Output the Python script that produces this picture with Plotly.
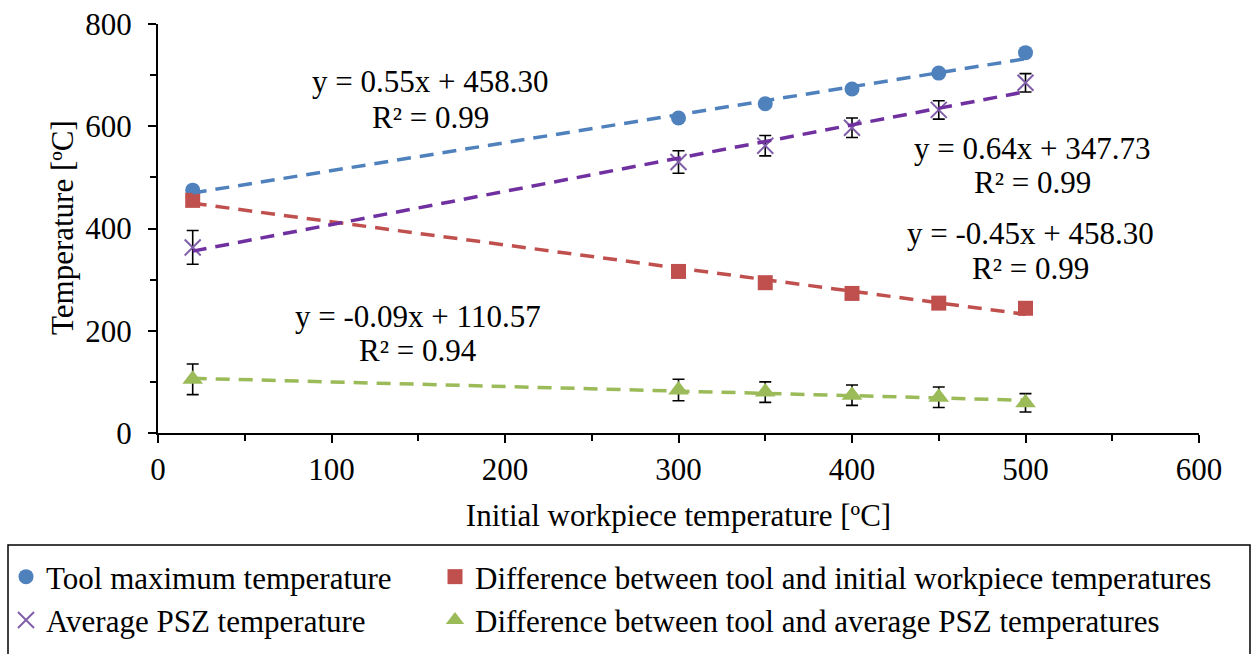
import numpy as np
import plotly.graph_objects as go

# ---- data ----
x_init = [20, 300, 350, 400, 450, 500]
tool_max = [475, 616, 644, 673, 704, 744]
diff_init = [455, 316, 294, 273, 254, 244]
psz_avg = [363, 530, 562, 597, 632, 685]
psz_err = [33, 22, 20, 19, 18, 18]
diff_psz = [105, 84, 80, 74, 70, 59]
diff_psz_err = [30, 21, 20, 20, 20, 18]

names = ["Tool maximum temperature",
         "Difference between tool and initial workpiece temperatures",
         "Average PSZ temperature",
         "Difference between tool and average PSZ temperatures"]
eq_lines = ["y = 0.55x + 458.30", "y = 0.64x + 347.73",
            "y = -0.45x + 458.30", "y = -0.09x + 110.57"]
r2_lines = ["R² = 0.99", "R² = 0.99", "R² = 0.99", "R² = 0.94"]
x_ticks = [0, 100, 200, 300, 400, 500, 600]
y_ticks = [0, 200, 400, 600, 800]
x_title = "Initial workpiece temperature [ºC]"
y_title = "Temperature [ºC]"

FONT = "Liberation Serif"
FS = 31

marker_col = {"tool": "#4F81BD", "diff1": "#C0504D", "psz": "#7F5FA8", "diff2": "#9BBB59"}
trend_col = {"tool": "#4F81BD", "diff1": "#C0504D", "psz": "#7030A0", "diff2": "#9BBB59"}

W, H = 1252, 654
ml, mr, mt, mb = 158, 53, 24, 221
pw, ph = W - ml - mr, H - mt - mb
def px2paper_x(px): return (px - ml) / pw
def px2paper_y(py): return (H - mb - py) / ph

fig = go.Figure()

err_style = dict(type="data", color="black", thickness=1.6, width=6)

fig.add_trace(go.Scatter(x=x_init, y=tool_max, mode="markers", name=names[0],
                         legend="legend", legendgroup="g1",
                         marker=dict(symbol="circle", size=15, color=marker_col["tool"])))
fig.add_trace(go.Scatter(x=x_init, y=psz_avg, mode="markers", name=names[2],
                         legend="legend", legendgroup="g2",
                         error_y=dict(array=psz_err, **err_style),
                         marker=dict(symbol="x-thin-open", size=16, color=marker_col["psz"],
                                     line=dict(width=2, color=marker_col["psz"]))))
fig.add_trace(go.Scatter(x=x_init, y=diff_init, mode="markers", name=names[1],
                         legend="legend2", legendgroup="g3",
                         marker=dict(symbol="square", size=15, color=marker_col["diff1"])))
fig.add_trace(go.Scatter(x=x_init, y=diff_psz, mode="markers", name=names[3],
                         legend="legend2", legendgroup="g4",
                         error_y=dict(array=diff_psz_err, **err_style),
                         marker=dict(symbol="triangle-up", size=18, color=marker_col["diff2"])))

# linear trendlines fitted from the data
xs = np.array([min(x_init), max(x_init)], dtype=float)
for key, ys in [("tool", tool_max), ("diff1", diff_init), ("psz", psz_avg), ("diff2", diff_psz)]:
    m, b = np.polyfit(x_init, ys, 1)
    fig.add_trace(go.Scatter(x=xs, y=m * xs + b, mode="lines", showlegend=False,
                             hoverinfo="skip",
                             line=dict(color=trend_col[key], width=3.5, dash="14px,9px")))

# equation labels (centre x, line-1 y, line-2 y in pixels)
ann_px = [(430, 81, 117), (1032, 148, 183), (1030, 233, 268), (418, 316, 350)]
for eq, r2, (cx, y1, y2) in zip(eq_lines, r2_lines, ann_px):
    for txt, yy in ((eq, y1), (r2, y2)):
        fig.add_annotation(x=px2paper_x(cx), y=px2paper_y(yy), xref="paper", yref="paper",
                           text=txt, showarrow=False, xanchor="center", yanchor="middle",
                           font=dict(family=FONT, size=FS, color="black"))

# y-axis title as rotated text
fig.add_annotation(x=px2paper_x(62), y=px2paper_y(228), xref="paper", yref="paper",
                   text=y_title, textangle=-90, showarrow=False,
                   xanchor="center", yanchor="middle",
                   font=dict(family=FONT, size=FS, color="black"))

# legend frame
fig.add_shape(type="rect", xref="paper", yref="paper",
              x0=px2paper_x(8), x1=px2paper_x(1250),
              y0=px2paper_y(545), y1=px2paper_y(662),
              line=dict(color="black", width=1.5), fillcolor="rgba(0,0,0,0)")

leg_common = dict(orientation="v", yanchor="top", xanchor="left",
                  xref="container", yref="container",
                  font=dict(family=FONT, size=FS, color="black"),
                  bgcolor="rgba(0,0,0,0)", borderwidth=0, tracegroupgap=5,
                  itemsizing="trace", traceorder="normal")

fig.update_layout(
    width=W, height=H,
    margin=dict(l=ml, r=mr, t=mt, b=mb, pad=0, autoexpand=False),
    paper_bgcolor="white", plot_bgcolor="white",
    font=dict(family=FONT, size=FS, color="black"),
    showlegend=True,
    legend=dict(x=6 / W, y=1 - 550 / H, **leg_common),
    legend2=dict(x=435 / W, y=1 - 550 / H, **leg_common),
    xaxis=dict(range=[0, 600], tickvals=x_ticks, ticktext=[str(v) for v in x_ticks],
               automargin=False,
               showgrid=False, zeroline=False, showline=True, linecolor="black", linewidth=2,
               ticks="outside", ticklen=8, tickwidth=1.5, tickcolor="black",
               minor=dict(dtick=50, ticks="outside", ticklen=6, tickwidth=1.5, tickcolor="black"),
               ticklabelstandoff=0,
               title=dict(text=x_title, standoff=18,
                          font=dict(family=FONT, size=FS))),
    yaxis=dict(range=[0, 800], tickvals=y_ticks, ticktext=[str(v) for v in y_ticks],
               automargin=False,
               showgrid=False, zeroline=False, showline=True, linecolor="black", linewidth=2,
               ticks="outside", ticklen=8, tickwidth=1.5, tickcolor="black",
               minor=dict(dtick=100, ticks="outside", ticklen=6, tickwidth=1.5, tickcolor="black"),
               ticklabelstandoff=10),
)

fig.write_html("out.html")
